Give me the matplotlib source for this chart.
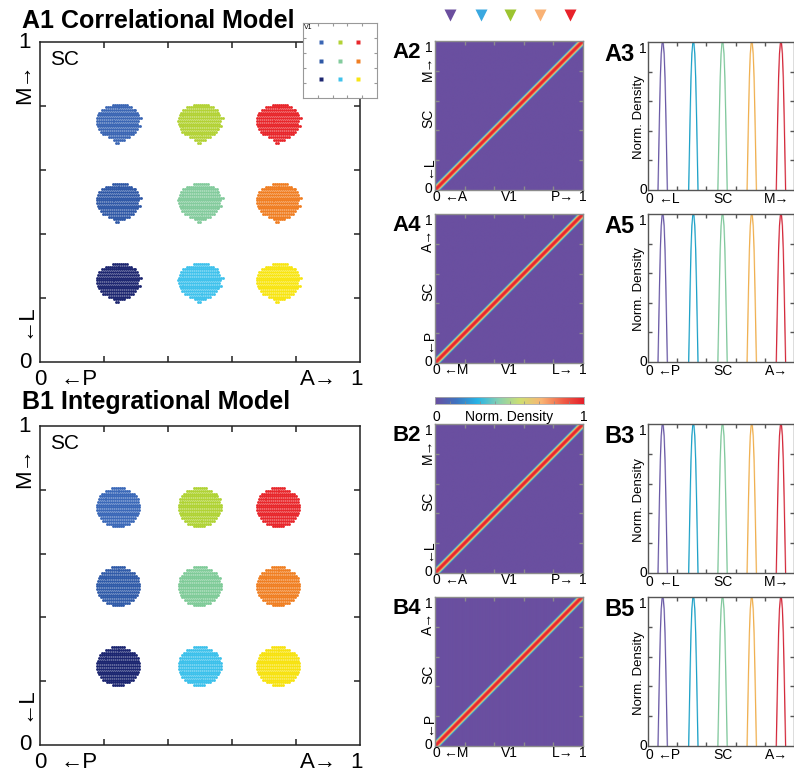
import numpy as np
import matplotlib
matplotlib.use('Agg')
import matplotlib.pyplot as plt
from matplotlib.colors import LinearSegmentedColormap

plt.rcParams['font.family'] = ['Liberation Sans', 'DejaVu Sans']

W, H = 794, 776

# cluster centres in SC space (columns P->A, rows M->L)
clus_x = [0.245, 0.50, 0.745]
clus_y = [0.745, 0.497, 0.247]
a1_colors = [['#3b66b4', '#b3d235', '#e8262b'],
             ['#2f58a6', '#83cb9c', '#f07e22'],
             ['#1d2670', '#3fc2ec', '#f8e512']]
b1_colors = [['#3a68b8', '#b0d334', '#e8262b'],
             ['#2f5aa8', '#7fcb98', '#f07f22'],
             ['#1b2570', '#3cc1eb', '#f7e20f']]

# row extents of a cluster (top row first), left / right half widths
a_left = [0.018, 0.040, 0.052, 0.060, 0.064, 0.066, 0.068, 0.066, 0.064, 0.060, 0.055, 0.048, 0.030, 0.015, 0.006]
a_right = [0.030, 0.046, 0.056, 0.060, 0.064, 0.074, 0.066, 0.064, 0.068, 0.060, 0.054, 0.046, 0.036, 0.020, 0.004]
b_half = [0.020, 0.040, 0.050, 0.057, 0.062, 0.064, 0.066, 0.066, 0.066, 0.064, 0.060, 0.055, 0.048, 0.036, 0.018]

# peak positions of the 5 stimuli and their colours
peaks = [0.10, 0.31, 0.51, 0.71, 0.91]
tri_colors = ['#6b4e9e', '#3aa8e0', '#9cc430', '#f9b275', '#e8222a']
peak_colors = ['#6a5aa6', '#1ea2c8', '#80c89c', '#f0b050', '#d42a3c']

# peak profile (offset from centre -> normalised density)
peak_off = [-0.032, -0.028, -0.022, -0.016, -0.010, -0.004, 0.0, 0.004, 0.010, 0.016, 0.022, 0.028, 0.032]
peak_val = [0.0, 0.20, 0.50, 0.76, 0.92, 0.99, 1.0, 0.99, 0.92, 0.76, 0.50, 0.20, 0.0]

# diagonal band profile of the V1 x SC density (|V1 - SC| -> density)
band_d = [0.0, 0.010, 0.018, 0.025, 0.032, 0.040]
band_v = [1.0, 0.95, 0.80, 0.55, 0.25, 0.0]

cmap = LinearSegmentedColormap.from_list('dens', ['#6a4fa0', '#3f74c0', '#27b4e6', '#88d0b0',
                                                 '#cfdf72', '#f9b574', '#f06048', '#e51f2a'])

fig = plt.figure(figsize=(W / 100, H / 100), dpi=100)


def px_axes(x0, y0, x1, y1, **kw):
    return fig.add_axes([x0 / W, 1 - y1 / H, (x1 - x0) / W, (y1 - y0) / H], **kw)


def style_box(ax, color, lw, tlen):
    ax.set_xlim(0, 1)
    ax.set_ylim(0, 1)
    ticks = [0.2, 0.4, 0.6, 0.8]
    ax.set_xticks(ticks)
    ax.set_yticks(ticks)
    ax.set_xticklabels([])
    ax.set_yticklabels([])
    ax.tick_params(direction='in', top=True, right=True, length=tlen, width=lw, color=color)
    for s in ax.spines.values():
        s.set_color(color)
        s.set_linewidth(lw)


def cluster_panel(ax, colors, left, right):
    dx, dy = 0.0062, 0.0085
    for r in range(3):
        for c in range(3):
            xs, ys = [], []
            for i in range(len(left)):
                yy = clus_y[r] + (7 - i) * dy
                row = np.arange(clus_x[c] - left[i], clus_x[c] + right[i] + 1e-9, dx)
                xs.extend(row)
                ys.extend([yy] * len(row))
            ax.scatter(xs, ys, s=4.2, marker='o', color=colors[r][c], linewidths=0)
    style_box(ax, '#222222', 1.1, 4)
    fs = 16
    ax.text(-0.047, 1.0, '1', fontsize=fs, ha='center', va='center', transform=ax.transAxes)
    ax.text(-0.047, 0.0, '0', fontsize=fs, ha='center', va='center', transform=ax.transAxes)
    ax.text(-0.047, 0.87, 'M\u2192', fontsize=fs, rotation=90, ha='center', va='center', transform=ax.transAxes)
    ax.text(-0.047, 0.13, '\u2190L', fontsize=fs, rotation=90, ha='center', va='center', transform=ax.transAxes)
    ax.text(0.0, -0.056, '0', fontsize=fs, ha='center', va='center', transform=ax.transAxes)
    ax.text(0.122, -0.056, '\u2190P', fontsize=fs, ha='center', va='center', transform=ax.transAxes)
    ax.text(0.87, -0.056, 'A\u2192', fontsize=fs, ha='center', va='center', transform=ax.transAxes)
    ax.text(0.99, -0.056, '1', fontsize=fs, ha='center', va='center', transform=ax.transAxes)
    ax.text(0.03, 0.975, 'SC', fontsize=15, ha='left', va='top', transform=ax.transAxes)


def heat_panel(ax, label, xl, yl):
    xs = np.linspace(0, 1, 300)
    gx, gy = np.meshgrid(xs, xs)
    dens = np.interp(np.abs(gx - gy), band_d, band_v)
    ax.imshow(dens, cmap=cmap, origin='lower', extent=[0, 1, 0, 1], aspect='auto',
              interpolation='bilinear', vmin=0, vmax=1)
    style_box(ax, '#8c8c8c', 1.0, 3)
    fs = 10
    t = ax.transAxes
    ax.text(-0.045, 1.0, '1', fontsize=fs, ha='center', va='top', transform=t)
    ax.text(-0.048, 0.01, '0', fontsize=fs, ha='center', va='center', transform=t)
    ax.text(-0.048, 0.82, yl[1] + '\u2192', fontsize=fs, rotation=90, ha='center', va='center', transform=t)
    ax.text(-0.048, 0.48, 'SC', fontsize=fs, rotation=90, ha='center', va='center', transform=t)
    ax.text(-0.048, 0.15, '\u2190' + yl[0], fontsize=fs, rotation=90, ha='center', va='center', transform=t)
    ax.text(0.01, -0.05, '0', fontsize=fs, ha='center', va='center', transform=t)
    ax.text(0.14, -0.05, '\u2190' + xl[0], fontsize=fs, ha='center', va='center', transform=t)
    ax.text(0.50, -0.05, 'V1', fontsize=fs, ha='center', va='center', transform=t)
    ax.text(0.86, -0.05, xl[1] + '\u2192', fontsize=fs, ha='center', va='center', transform=t)
    ax.text(1.0, -0.05, '1', fontsize=fs, ha='center', va='center', transform=t)
    ax.text(-0.285, 0.99, label, fontsize=16, fontweight='bold', ha='left', va='top', transform=t)


def density_panel(ax, label, xl):
    for p, col in zip(peaks, peak_colors):
        xx = np.array(peak_off) + p
        ax.plot(xx, peak_val, color=col, lw=0.8)
        ax.plot(xx + 0.003, peak_val, color=col, lw=0.7, alpha=0.4)
    style_box(ax, '#555555', 1.0, 3)
    fs = 10
    t = ax.transAxes
    ax.text(-0.035, 1.0, '1', fontsize=fs, ha='center', va='top', transform=t)
    ax.text(-0.035, 0.0, '0', fontsize=fs, ha='center', va='center', transform=t)
    ax.text(-0.065, 0.49, 'Norm. Density', fontsize=9.5, rotation=90, ha='center', va='center', transform=t)
    ax.text(0.012, -0.06, '0', fontsize=fs, ha='center', va='center', transform=t)
    ax.text(0.14, -0.06, '\u2190' + xl[0], fontsize=fs, ha='center', va='center', transform=t)
    ax.text(0.51, -0.06, 'SC', fontsize=fs, ha='center', va='center', transform=t)
    ax.text(0.88, -0.06, xl[1] + '\u2192', fontsize=fs, ha='center', va='center', transform=t)
    ax.text(-0.30, 0.99, label, fontsize=17, fontweight='bold', ha='left', va='top', transform=t)


# ---- A1 / B1 scatter panels
ax_a1 = px_axes(40, 42, 360, 362)
cluster_panel(ax_a1, a1_colors, a_left, a_right)
fig.text(22 / W, 1 - 28 / H, 'A1 Correlational Model', fontsize=18, fontweight='bold', ha='left', va='baseline')

ax_b1 = px_axes(40, 426, 360, 745)
cluster_panel(ax_b1, b1_colors, b_half, b_half)
fig.text(22 / W, 1 - 409 / H, 'B1 Integrational Model', fontsize=18, fontweight='bold', ha='left', va='baseline')

# inset with V1 layout
ax_in = px_axes(303, 23, 377, 98)
ax_in.set_facecolor('white')
for r in range(3):
    for c in range(3):
        ax_in.plot(clus_x[c], clus_y[r], marker='s', ms=3, color=a1_colors[r][c], mec='none')
style_box(ax_in, '#999999', 0.8, 2)
ax_in.text(0.01, 0.99, 'V1', fontsize=5, ha='left', va='top', transform=ax_in.transAxes)

# ---- heatmaps
heat_panel(px_axes(435, 41, 583, 190), 'A2', ['A', 'P'], ['L', 'M'])
heat_panel(px_axes(435, 214, 583, 363), 'A4', ['M', 'L'], ['P', 'A'])
heat_panel(px_axes(435, 424, 583, 573), 'B2', ['A', 'P'], ['L', 'M'])
heat_panel(px_axes(435, 597, 583, 746), 'B4', ['M', 'L'], ['P', 'A'])

# ---- density profiles
density_panel(px_axes(648, 42, 794, 190), 'A3', ['L', 'M'])
density_panel(px_axes(648, 214, 794, 362), 'A5', ['P', 'A'])
density_panel(px_axes(648, 424, 794, 573), 'B3', ['L', 'M'])
density_panel(px_axes(648, 597, 794, 746), 'B5', ['P', 'A'])

# ---- stimulus markers above A2
ax_tri = px_axes(435, 5, 583, 24)
for p, col in zip(peaks, tri_colors):
    ax_tri.plot(p, 0.5, marker='v', ms=8, color=col, mec='none')
ax_tri.set_xlim(0, 1)
ax_tri.set_ylim(0, 1)
ax_tri.axis('off')

# ---- colorbar
ax_cb = px_axes(435, 397, 584, 404)
ax_cb.imshow(np.linspace(0, 1, 256)[None, :], cmap=cmap, aspect='auto', extent=[0, 1, 0, 1])
ax_cb.set_xticks([0.1, 0.2, 0.3, 0.4, 0.5, 0.6, 0.7, 0.8, 0.9])
ax_cb.set_yticks([])
ax_cb.set_xticklabels([])
ax_cb.tick_params(direction='in', length=2, width=0.5, color='#888888')
for s in ax_cb.spines.values():
    s.set_color('#aaaaaa')
    s.set_linewidth(0.6)
ax_cb.text(0.01, -1.9, '0', fontsize=10, ha='center', va='center', transform=ax_cb.transAxes)
ax_cb.text(0.5, -1.9, 'Norm. Density', fontsize=10, ha='center', va='center', transform=ax_cb.transAxes)
ax_cb.text(1.0, -1.9, '1', fontsize=10, ha='center', va='center', transform=ax_cb.transAxes)

fig.savefig('out.png', dpi=100)
